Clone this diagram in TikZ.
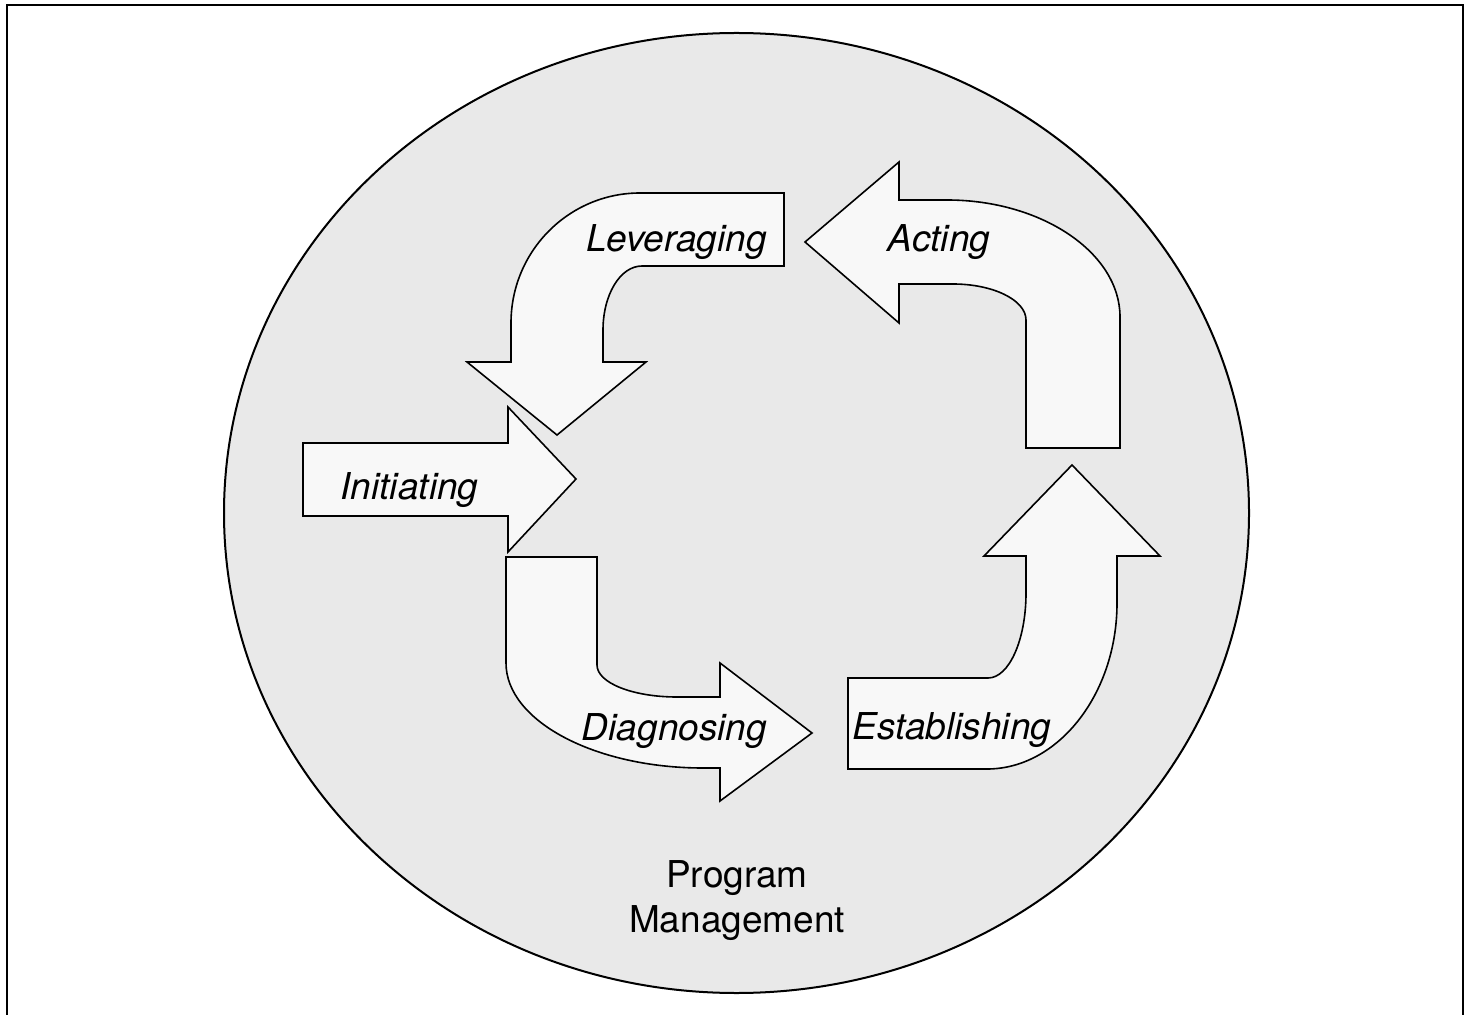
\documentclass[tikz,border=0pt]{standalone}
\usepackage{fontspec}
\setmainfont{TeX Gyre Heros}
\definecolor{circfill}{HTML}{E9E9E9}
\definecolor{arrowfill}{HTML}{F8F8F8}
\begin{document}
\begin{tikzpicture}[x=0.5pt,y=-0.5pt,
  arrowshape/.style={draw=black, line width=0.8pt, fill=arrowfill, line join=miter},
  lbl/.style={font=\fontsize{18.5}{22.5}\selectfont\itshape, inner sep=0pt, anchor=base},
  plainlbl/.style={font=\fontsize{18.5}{22.5}\selectfont, inner sep=0pt, anchor=base}]
\useasboundingbox (0,0) rectangle (1471,1015);
% frame
\draw[line width=1.4pt] (7,1015) -- (7,5) -- (1463,5) -- (1463,1015);
% background circle
\draw[fill=circfill, line width=1pt] (736.5,513) ellipse [x radius=256.25pt, y radius=240pt];
% Leveraging arrow
\draw[arrowshape] (784,193) -- (640,193)
  .. controls (569,193) and (511,251) .. (511,323)
  -- (511,362) -- (467,362) -- (557,435) -- (646,362) -- (603,362) -- (603,330)
  .. controls (603,295) and (620,266) .. (642,266)
  -- (784,266) -- cycle;
% Acting arrow
\draw[arrowshape] (805,242) -- (899,162) -- (899,200) -- (947,200)
  .. controls (1042,200) and (1120,253) .. (1120,317)
  -- (1120,448) -- (1026,448) -- (1026,320)
  .. controls (1026,300) and (993,284) .. (953,284)
  -- (899,284) -- (899,323) -- cycle;
% Initiating arrow
\draw[arrowshape] (303,443) -- (508,443) -- (508,407) -- (576,479) -- (508,552) -- (508,516) -- (303,516) -- cycle;
% Diagnosing arrow
\draw[arrowshape] (506,557) -- (597,557) -- (597,665)
  .. controls (597,683) and (633,697) .. (677,697)
  -- (720,697) -- (720,663) -- (812,733) -- (720,801) -- (720,768) -- (703,768)
  .. controls (595,768) and (506,721) .. (506,663) -- cycle;
% Establishing arrow
\draw[arrowshape] (848,678) -- (988,678)
  .. controls (1009,678) and (1026,640) .. (1026,593)
  -- (1026,556) -- (984,556) -- (1072,465) -- (1160,556) -- (1117,556) -- (1117,603)
  .. controls (1117,694) and (1058,769) .. (987,769)
  -- (848,769) -- cycle;
% labels
\node[lbl] (lev) at (676.5,252) {Leveraging};
\node[lbl] (act) at (939,252) {Acting};
\node[lbl] (ini) at (409.5,500) {Initiating};
\node[lbl] (dia) at (674.5,740) {Diagnosing};
\node[lbl] (est) at (952,739) {Establishing};
\node[plainlbl] (pm1) at (737,887) {Program};
\node[plainlbl] (pm2) at (737,932) {Management};
\end{tikzpicture}
\end{document}
